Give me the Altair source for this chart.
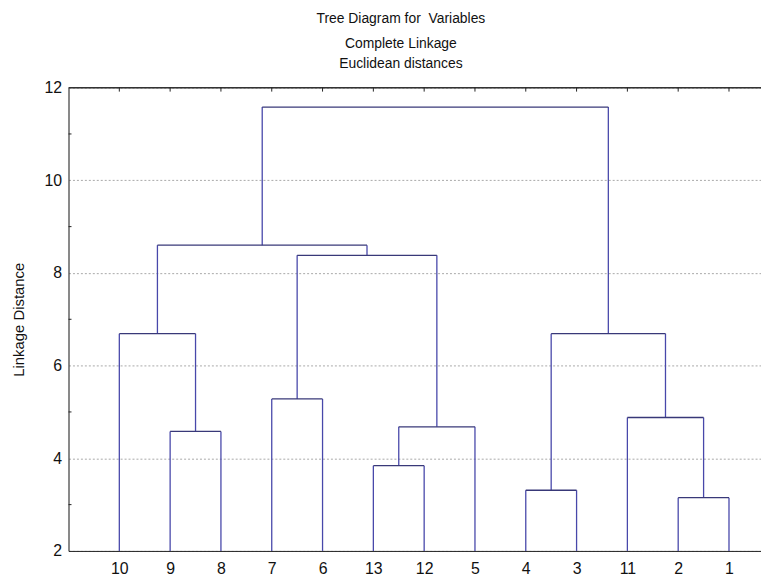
import json
import altair as alt
import pandas as pd

# Leaf order along the x axis (left to right)
leaves = ["10", "9", "8", "7", "6", "13", "12", "5", "4", "3", "11", "2", "1"]

# Merge steps: cluster C1..C12 joins merge_a[k] and merge_b[k] at merge_h[k]
merge_a = ["2", "4", "13", "9", "C3", "11", "7", "10", "C2", "C7", "C8", "C11"]
merge_b = ["1", "3", "12", "8", "5", "C1", "6", "C4", "C6", "C5", "C10", "C9"]
merge_h = [3.15, 3.31, 3.84, 4.58, 4.68, 4.88, 5.28, 6.69, 6.69, 8.38, 8.60, 11.58]

y_major = [2, 4, 6, 8, 10, 12]
y_minor = [3, 5, 7, 9, 11]
y_min, y_max = 2, 12
x_min, x_max = 0, 13.63

# Build dendrogram segments from the merge table
pos = {name: i + 1 for i, name in enumerate(leaves)}
hgt = {name: y_min for name in leaves}
vert_rows, horiz_rows = [], []
for k, (a, b, h) in enumerate(zip(merge_a, merge_b, merge_h)):
    name = f"C{k + 1}"
    for child in (a, b):
        vert_rows.append({"x": pos[child], "y": hgt[child], "y2": h})
    horiz_rows.append({"x": pos[a], "x2": pos[b], "y": h})
    pos[name] = (pos[a] + pos[b]) / 2
    hgt[name] = h

vert_df = pd.DataFrame(vert_rows)
horiz_df = pd.DataFrame(horiz_rows)
leaf_df = pd.DataFrame({"x": list(range(1, len(leaves) + 1))})
minor_df = pd.DataFrame({"y": y_minor})
border_df = pd.DataFrame({"x": [x_min], "x2": [x_max], "y": [y_max]})

FONT = "Liberation Sans"
VCOL = "#4848aa"
HCOL = "#383878"

label_expr = json.dumps(leaves) + "[datum.value - 1]"

xscale = alt.Scale(domain=[x_min, x_max], nice=False, zero=False)
yscale = alt.Scale(domain=[y_min, y_max], nice=False, zero=False)

x_axis = alt.Axis(values=list(range(1, len(leaves) + 1)), labelExpr=label_expr,
                  title=None, grid=False, ticks=False, domainColor="#222222",
                  labelFont=FONT, labelFontSize=16, labelColor="#111111",
                  labelPadding=10, labelFlush=False)
y_axis = alt.Axis(values=y_major, title="Linkage Distance", grid=True,
                  gridDash=[2, 2], gridColor="#a8a8a8", ticks=False,
                  domainColor="#222222", labelFont=FONT, labelFontSize=16,
                  labelColor="#111111", labelPadding=7, titleFont=FONT,
                  titleFontSize=15, titleFontWeight="normal", titleColor="#111111",
                  titleX=-50, titleBaseline="middle")

verts = alt.Chart(vert_df).mark_rule(color=VCOL, strokeWidth=1.3).encode(
    x=alt.X("x:Q", scale=xscale, axis=x_axis),
    y=alt.Y("y:Q", scale=yscale, axis=y_axis),
    y2="y2:Q",
)
horiz = alt.Chart(horiz_df).mark_rule(color=HCOL, strokeWidth=1.3).encode(
    x="x:Q", x2="x2:Q", y="y:Q",
)
border = alt.Chart(border_df).mark_rule(color="#333333", strokeWidth=1.5).encode(
    x="x:Q", x2="x2:Q", y="y:Q",
)
top_ticks = alt.Chart(leaf_df).mark_rule(color="#222222", strokeWidth=1).encode(
    x="x:Q", y=alt.value(0), y2=alt.value(4),
)
minor_ticks = alt.Chart(minor_df).mark_rule(color="#222222", strokeWidth=1).encode(
    y="y:Q", x=alt.value(0), x2=alt.value(3),
)

chart = alt.layer(verts, horiz, border, top_ticks, minor_ticks).properties(
    width=698,
    height=467,
    padding={"left": 61, "top": 78, "right": 0, "bottom": 24},
    autosize=alt.AutoSizeParams(type="none"),
    title=alt.TitleParams(
        text="Tree Diagram for\u00a0 Variables",
        subtitle=["Complete Linkage", "Euclidean distances"],
        font=FONT, fontSize=14, fontWeight="normal", color="#111111",
        subtitleFont=FONT, subtitleFontSize=14, subtitleColor="#111111",
        subtitleLineHeight=20, subtitlePadding=11,
        anchor="middle", dx=-14, offset=9,
    ),
).configure_view(stroke=None).configure(background="white")

chart.save("out.html", embed_options={"renderer": "svg", "actions": False})
